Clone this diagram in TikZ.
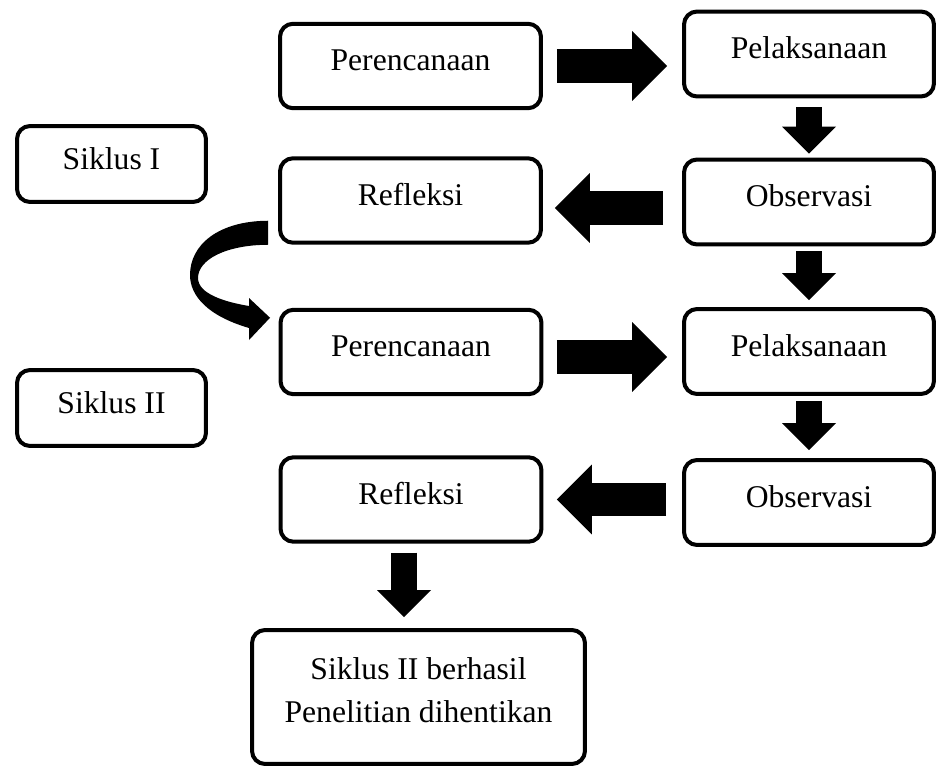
\documentclass[tikz,border=0pt]{standalone}
\usepackage{fontspec}
\setmainfont{Liberation Serif}
\usepackage{tikz}
\usetikzlibrary{arrows.meta,calc}

\begin{document}
\begin{tikzpicture}[line cap=round,line join=round,x=0.02cm,y=-0.02cm,
        frame/.style={draw=black,line width=0.08cm,rounded corners=0.26cm,inner sep=0pt,font=\fontsize{18}{25}\selectfont},
        stage/.style={frame,text depth=0.24cm,minimum width=5.22cm,minimum height=1.69cm},
        sidestage/.style={frame,text depth=0.24cm,minimum width=5cm,minimum height=1.7cm},
        cyclebox/.style={frame,text depth=0.2cm,minimum width=3.78cm,minimum height=1.52cm},
        blockarrow/.style={line cap=butt,line width=0.68cm,-{Triangle[length=0.7cm,width=1.4cm,line width=0pt]}},
        downarrow/.style={line cap=butt,line width=0.52cm,-{Triangle[length=0.54cm,width=1.08cm,line width=0pt]}}]
    \useasboundingbox (0,0) rectangle (937,767);
    \node[stage] (P1) at (410.5,66) {Perencanaan};
    \node[sidestage] (L1) at (809,54) {Pelaksanaan};
    \node[cyclebox] (S1) at (111.5,164) {Siklus I};
    \node[stage] (R1) at (410.5,200.5) {Refleksi};
    \node[sidestage] (O1) at (809,202) {Observasi};
    \node[stage] (P2) at (411,352) {Perencanaan};
    \node[sidestage] (L2) at (809,351.5) {Pelaksanaan};
    \node[cyclebox] (S2) at (111.5,408) {Siklus II};
    \node[stage] (R2) at (411,499.5) {Refleksi};
    \node[sidestage] (O2) at (809,502.5) {Observasi};
    \node[frame,align=center,minimum width=6.66cm,minimum height=2.68cm] (F) at (418.5,697) {Siklus II berhasil\\Penelitian dihentikan\rule[-0.28cm]{0pt}{0pt}};
    \draw [blockarrow,shorten <=0.28cm,shorten >=0.3cm] (P1.east) -- (P1.east -| L1.west);
    \draw [downarrow,shorten <=0.18cm,shorten >=0.08cm] (L1.south) -- (O1.north);
    \draw [blockarrow,shorten <=0.38cm,shorten >=0.24cm] ([yshift=-0.12cm]O1.west) -- ([yshift=-0.12cm]O1.west -| R1.east);
    \draw [downarrow,shorten <=0.1cm,shorten >=0.14cm] (O1.south) -- (L2.north);
    \draw [blockarrow,shorten <=0.27cm,shorten >=0.3cm] ([yshift=-0.1cm]P2.east) -- ([yshift=-0.1cm]P2.east -| L2.west);
    \draw [downarrow,shorten <=0.1cm,shorten >=0.16cm] (L2.south) -- (O2.north);
    \draw [blockarrow,shorten <=0.32cm,shorten >=0.27cm] (O2.west |- R2.east) -- (R2.east);
    \draw [downarrow,shorten <=0.18cm,shorten >=0.22cm] ([xshift=-0.14cm]R2.south) -- ([xshift=-0.14cm]R2.south |- F.north);
    \fill ($(R1.south west)+(-10,-24)$) .. controls (218,221) and (190,245) .. (190,275)
        .. controls (190,296) and (208,316) .. (249,328) -- (249,340) -- ($(P2.north west)+(-8.5,10)$)
        -- (249,298) -- (249,306) .. controls (225,302) and (198,294) .. (198,278)
        .. controls (198,260) and (225,245) .. ($(R1.south west)+(-10,0)$) -- cycle;
\end{tikzpicture}
\end{document}
